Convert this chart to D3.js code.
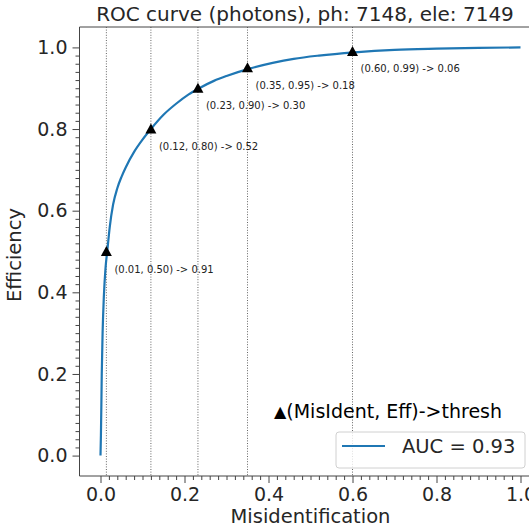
<!DOCTYPE html>
<html>
<head>
<meta charset="utf-8">
<script src="https://cdn.jsdelivr.net/npm/d3@7"></script>
<style>
	body { margin: 0; background: #fff; }
	svg { display: block; font-family: 'DejaVu Sans', sans-serif; }
</style>
</head>
<body>
<svg id="chart" width="529" height="528"></svg>
<script>

// ROC curve: misidentification (x) vs efficiency (y)
var aRocMisIdent = [0, 0.001, 0.002, 0.003, 0.005, 0.008, 0.012, 0.016, 0.022, 0.03, 0.04, 0.05, 0.06, 0.08, 0.10, 0.12, 0.15, 0.18, 0.21, 0.235, 0.27, 0.30, 0.355, 0.41, 0.46, 0.52, 0.605, 0.70, 0.80, 0.90, 1.0];
var aRocEff      = [0, 0.05,  0.12,  0.20,  0.30,  0.39,  0.46,  0.50,  0.56,  0.615, 0.655, 0.683, 0.706, 0.744, 0.774, 0.80, 0.835, 0.862, 0.885, 0.90, 0.918, 0.93, 0.948, 0.962, 0.972, 0.98, 0.988, 0.994, 0.997, 0.999, 1.0];

// threshold markers
var aMarkMisIdent = [0.014, 0.12, 0.232, 0.35, 0.60];
var aMarkEff      = [0.50, 0.80, 0.90, 0.95, 0.99];
var aMarkLabels   = ['(0.01, 0.50) -> 0.91', '(0.12, 0.80) -> 0.52', '(0.23, 0.90) -> 0.30', '(0.35, 0.95) -> 0.18', '(0.60, 0.99) -> 0.06'];

var aTicks = [0, 0.2, 0.4, 0.6, 0.8, 1.0];
var strTitle = 'ROC curve (photons), ph: 7148, ele: 7149';
var strLegendMark = '\u25B2';
var strLegendTitle = '(MisIdent, Eff)->thresh';
var strLegendLabel = 'AUC = 0.93';

function DrawRocChart(vSelector)
{
	var sSvg = d3.select(vSelector);

	const fLeft = 79.5, fRight = 541.5, fTop = 27, fBottom = 476;
	const strText = '#262626';
	const strSpine = '#444';
	const strBlue = '#1f77b4';

	var x = d3.scaleLinear().domain([-0.05, 1.05]).range([fLeft, fRight]);
	var y = d3.scaleLinear().domain([-0.05, 1.05]).range([fBottom, fTop]);

	// minor ticks every 0.02 between 0 and 1
	var aMinor = d3.range(0, 51).map(function(i) { return i / 50; })
		.filter(function(v) { return Math.abs(v * 5 - Math.round(v * 5)) > 1e-6; });

	// dotted threshold lines
	sSvg.append('g')
		.selectAll('line')
		.data(aMarkMisIdent)
		.enter()
			.append('line')
			.attr('x1', function(d) { return x(d); })
			.attr('x2', function(d) { return x(d); })
			.attr('y1', fTop)
			.attr('y2', fBottom)
			.attr('stroke', '#555')
			.attr('stroke-width', 0.9)
			.attr('stroke-dasharray', '1,1.6');

	// curve
	var aRoc = aRocMisIdent.map(function(v, i) { return [v, aRocEff[i]]; });
	sSvg.append('path')
		.datum(aRoc)
		.attr('fill', 'none')
		.attr('stroke', strBlue)
		.attr('stroke-width', 2.2)
		.attr('stroke-linejoin', 'round')
		.attr('d', d3.line()
			.x(function(d) { return x(d[0]); })
			.y(function(d) { return y(d[1]); })
			.curve(d3.curveMonotoneX));

	// markers + labels
	var sMarks = sSvg.append('g')
		.selectAll('g')
		.data(aMarkMisIdent)
		.enter()
			.append('g')
			.attr('transform', function(d, i) { return 'translate(' + x(d) + ',' + y(aMarkEff[i]) + ')'; });

	sMarks.append('path')
		.attr('d', 'M0,-5.5 L-5.5,4.5 L5.5,4.5 Z')
		.attr('fill', '#000');

	sMarks.append('text')
		.attr('x', 8)
		.attr('y', 21)
		.attr('font-size', 10)
		.attr('fill', '#222')
		.text(function(d, i) { return aMarkLabels[i]; });

	// axes
	var sAxes = sSvg.append('g')
		.attr('fill', 'none')
		.attr('stroke', strSpine)
		.attr('stroke-width', 1);

	sAxes.append('line').attr('x1', fLeft).attr('x2', fLeft).attr('y1', fTop).attr('y2', fBottom);
	sAxes.append('line').attr('x1', fLeft).attr('x2', fRight).attr('y1', fBottom).attr('y2', fBottom);
	sAxes.append('line').attr('x1', fLeft).attr('x2', fRight).attr('y1', fTop).attr('y2', fTop);

	var axisX = d3.axisBottom(x).tickValues(aTicks).tickFormat(d3.format('.1f')).tickSize(7).tickPadding(5);
	var axisY = d3.axisLeft(y).tickValues(aTicks).tickFormat(d3.format('.1f')).tickSize(7).tickPadding(5);

	function StyleAxis(sG)
	{
		sG.select('.domain').remove();
		sG.selectAll('line').attr('stroke', strSpine);
		sG.selectAll('text').attr('fill', strText).attr('font-size', 19).attr('font-family', 'DejaVu Sans');
	}

	sSvg.append('g')
		.attr('transform', 'translate(0,' + fBottom + ')')
		.call(axisX)
		.call(StyleAxis);

	sSvg.append('g')
		.attr('transform', 'translate(' + fLeft + ',0)')
		.call(axisY)
		.call(StyleAxis);

	sSvg.append('g')
		.attr('transform', 'translate(0,' + fBottom + ')')
		.call(d3.axisBottom(x).tickValues(aMinor).tickFormat('').tickSize(4))
		.call(StyleAxis);

	sSvg.append('g')
		.attr('transform', 'translate(' + fLeft + ',0)')
		.call(d3.axisLeft(y).tickValues(aMinor).tickFormat('').tickSize(4))
		.call(StyleAxis);

	// title and axis labels
	sSvg.append('text')
		.attr('x', 305)
		.attr('y', 21)
		.attr('text-anchor', 'middle')
		.attr('font-size', 20)
		.attr('fill', strText)
		.text(strTitle);

	sSvg.append('text')
		.attr('x', (fLeft + fRight) / 2)
		.attr('y', 523)
		.attr('text-anchor', 'middle')
		.attr('font-size', 19.5)
		.attr('fill', strText)
		.text('Misidentification');

	sSvg.append('text')
		.attr('transform', 'translate(21,255) rotate(-90)')
		.attr('text-anchor', 'middle')
		.attr('font-size', 19.5)
		.attr('fill', strText)
		.text('Efficiency');

	// legend
	var sLegend = sSvg.append('g');

	sLegend.append('rect')
		.attr('x', 336)
		.attr('y', 432)
		.attr('width', 189)
		.attr('height', 36)
		.attr('rx', 3)
		.attr('fill', '#fff')
		.attr('fill-opacity', 0.8)
		.attr('stroke', '#d0d0d0')
		.attr('stroke-width', 1);

	var sLegendTitle = sLegend.append('text')
		.attr('x', 274)
		.attr('y', 418)
		.attr('font-size', 19)
		.attr('fill', '#000');

	sLegendTitle.append('tspan')
		.attr('font-size', 16)
		.attr('dy', -1)
		.text(strLegendMark);

	sLegendTitle.append('tspan')
		.attr('dy', 1)
		.text(strLegendTitle);

	sLegend.append('line')
		.attr('x1', 342)
		.attr('x2', 385)
		.attr('y1', 446)
		.attr('y2', 446)
		.attr('stroke', strBlue)
		.attr('stroke-width', 2.2);

	sLegend.append('text')
		.attr('x', 402)
		.attr('y', 453)
		.attr('font-size', 19.5)
		.attr('fill', strText)
		.text(strLegendLabel);
}

DrawRocChart('#chart');

</script>
</body>
</html>
